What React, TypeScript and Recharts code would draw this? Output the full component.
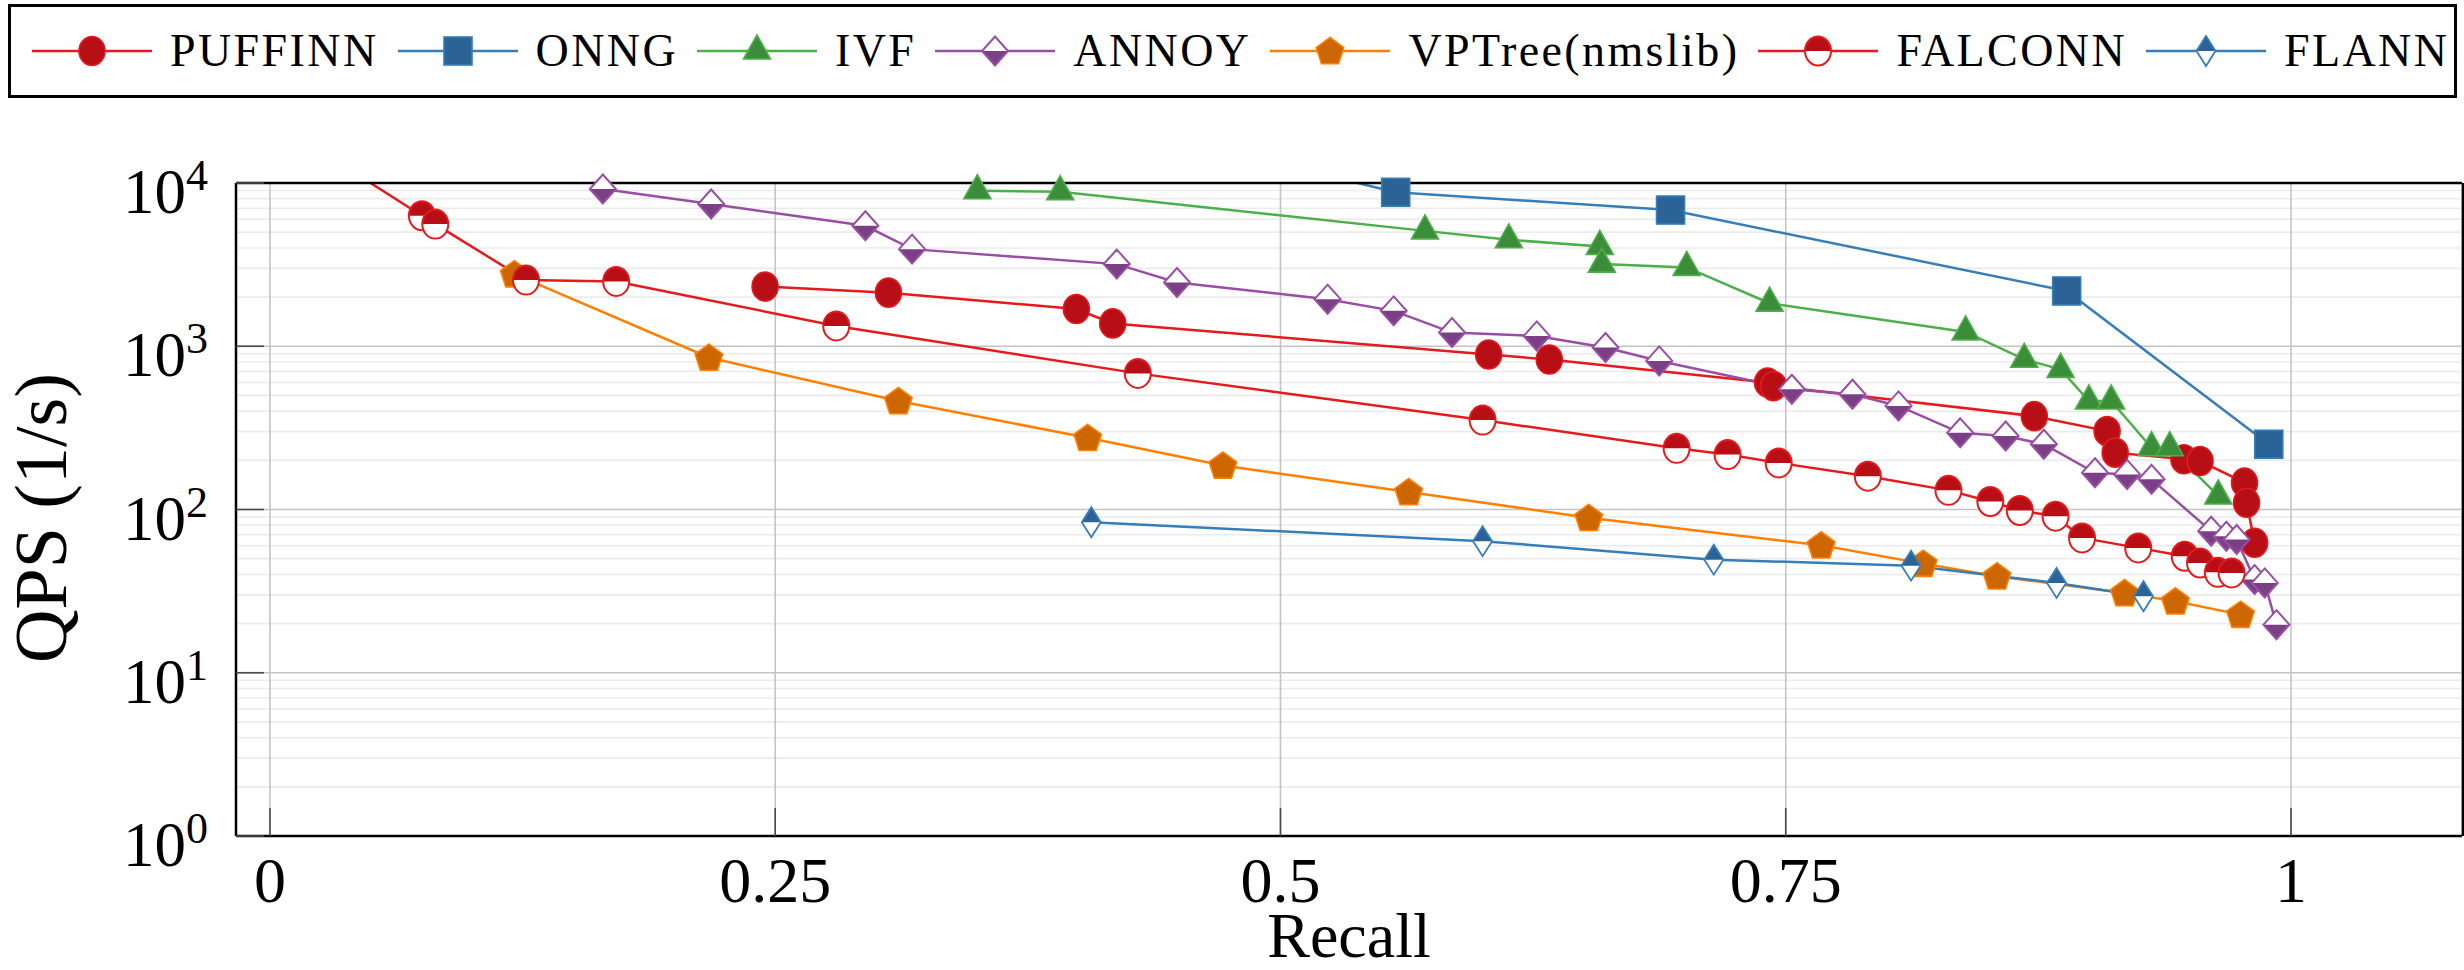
import React from "react";
import { LineChart, Line, XAxis, YAxis, CartesianGrid } from "recharts";

// recall (x) and queries per second (y)
const PUFFINN_RECALL = [0.245, 0.306, 0.399, 0.417, 0.603, 0.633, 0.741, 0.744, 0.873, 0.909, 0.913, 0.947, 0.955, 0.977, 0.978, 0.982];
const PUFFINN_QPS = [2320, 2130, 1690, 1380, 890, 830, 600, 570, 373, 302, 223, 203, 198, 146, 110, 62.5];

const ONNG_RECALL = [0.557, 0.693, 0.889, 0.989];
const ONNG_QPS = [8770, 6830, 2180, 251];
// the ONNG curve comes in from above the 10^4 limit
const ONNG_LEAD_RECALL = [0.45, 0.557];
const ONNG_LEAD_QPS = [18500, 8770];

const IVF_RECALL = [0.35, 0.391, 0.5715, 0.613, 0.658, 0.659, 0.701, 0.742, 0.839, 0.868, 0.886, 0.9, 0.911, 0.931, 0.94, 0.964];
const IVF_QPS = [8970, 8850, 5090, 4490, 4090, 3185, 3040, 1836, 1224, 832, 722, 462, 462, 239, 239, 121];

const ANNOY_RECALL = [0.1647, 0.2183, 0.2946, 0.3177, 0.419, 0.4488, 0.5233, 0.556, 0.5849, 0.6268, 0.6608, 0.6874, 0.753, 0.783, 0.8058, 0.8363, 0.8588, 0.8777, 0.903, 0.9189, 0.931, 0.9605, 0.968, 0.9731, 0.982, 0.987, 0.9928];
const ANNOY_QPS = [9190, 7440, 5470, 3935, 3185, 2459, 1942, 1647, 1213, 1157, 982, 813, 545, 508, 431, 295, 282, 251, 168, 164, 153, 73.6, 68.6, 65.5, 37.2, 35.5, 19.7];

const VPTREE_RECALL = [0.1209, 0.2172, 0.3109, 0.4046, 0.4715, 0.5634, 0.6525, 0.7675, 0.818, 0.8545, 0.9176, 0.9428, 0.975];
const VPTREE_QPS = [2766, 853, 462, 275, 186, 128, 88.9, 60.4, 46.6, 39, 30.8, 27.4, 22.7];

const FALCONN_RECALL = [0.0752, 0.0818, 0.1267, 0.1713, 0.2802, 0.4294, 0.6, 0.696, 0.7212, 0.7465, 0.7906, 0.8305, 0.8512, 0.8658, 0.8835, 0.8966, 0.9244, 0.9474, 0.955, 0.9638, 0.9706];
const FALCONN_QPS = [6300, 5600, 2543, 2495, 1332, 682, 353, 237, 217, 193, 160, 131, 112, 98.6, 91, 67, 58.2, 51.7, 47, 41.2, 40.9];
const FALCONN_LEAD_RECALL = [0.02, 0.0752];
const FALCONN_LEAD_QPS = [17200, 6300];

const FLANN_RECALL = [0.4064, 0.6, 0.7144, 0.812, 0.884, 0.927];
const FLANN_QPS = [83.6, 64, 49.3, 45.3, 35.5, 29.4];

const X_TICKS = [0, 0.25, 0.5, 0.75, 1];
const Y_TICKS = [1, 10, 100, 1000, 10000];
const Y_MINOR_TICKS = [
    2, 3, 4, 5, 6, 7, 8, 9,
    20, 30, 40, 50, 60, 70, 80, 90,
    200, 300, 400, 500, 600, 700, 800, 900,
    2000, 3000, 4000, 5000, 6000, 7000, 8000, 9000,
];

const W = 2464;
const H = 970;
// every axis is 1px thick, so the plot box lands on 236..2462 x 184..836
const MARGIN = { top: 182, right: 0, bottom: 133, left: 234 };
const X_DOMAIN: [number, number] = [-0.0168, 1.0846];
const Y_DOMAIN: [number, number] = [1, 10000];

const SERIF = "'Liberation Serif', 'Times New Roman', serif";
const TICK_COLOR = "#4a4a4a";
const BORDER = { stroke: "#000", strokeWidth: 2.5 };

const RED = "#e41a1c";
const BLUE = "#377eb8";
const GREEN = "#4daf4a";
const PURPLE = "#984ea3";
const ORANGE = "#ff7f00";

const toPoints = (xs: number[], ys: number[]) => xs.map((x, i) => ({ x, y: ys[i] }));

type MarkerKind = "circle" | "halfcircle" | "square" | "triangle" | "diamond" | "pentagon" | "thindiamond";

const SERIES: { name: string; color: string; mark: string; kind: MarkerKind; data: { x: number; y: number }[] }[] = [
    { name: "PUFFINN", color: RED, mark: "#b80f17", kind: "circle", data: toPoints(PUFFINN_RECALL, PUFFINN_QPS) },
    { name: "ONNG", color: BLUE, mark: "#2c6396", kind: "square", data: toPoints(ONNG_RECALL, ONNG_QPS) },
    { name: "IVF", color: GREEN, mark: "#3c8d3a", kind: "triangle", data: toPoints(IVF_RECALL, IVF_QPS) },
    { name: "ANNOY", color: PURPLE, mark: "#7b3f86", kind: "diamond", data: toPoints(ANNOY_RECALL, ANNOY_QPS) },
    { name: "VPTree(nmslib)", color: ORANGE, mark: "#cc6600", kind: "pentagon", data: toPoints(VPTREE_RECALL, VPTREE_QPS) },
    { name: "FALCONN", color: RED, mark: "#b80f17", kind: "halfcircle", data: toPoints(FALCONN_RECALL, FALCONN_QPS) },
    { name: "FLANN", color: BLUE, mark: "#2c6396", kind: "thindiamond", data: toPoints(FLANN_RECALL, FLANN_QPS) },
];

const LEADS = [
    { color: BLUE, data: toPoints(ONNG_LEAD_RECALL, ONNG_LEAD_QPS) },
    { color: RED, data: toPoints(FALCONN_LEAD_RECALL, FALCONN_LEAD_QPS) },
];

function Marker(props: any) {
    const { cx, cy, kind, lineColor, markColor } = props;
    if (typeof cx !== "number" || typeof cy !== "number") return null;
    switch (kind as MarkerKind) {
        case "circle":
            return <ellipse cx={cx} cy={cy} rx={13} ry={14.5} fill={markColor} stroke={lineColor} strokeWidth={1.6} />;
        case "halfcircle":
            return (
                <g>
                    <ellipse cx={cx} cy={cy} rx={13} ry={14.5} fill="#fff" />
                    <path d={`M${cx - 13},${cy} A13,14.5 0 0 1 ${cx + 13},${cy} Z`} fill={markColor} />
                    <ellipse cx={cx} cy={cy} rx={13} ry={14.5} fill="none" stroke={lineColor} strokeWidth={2} />
                </g>
            );
        case "square":
            return <rect x={cx - 14} y={cy - 14} width={28} height={28} fill={markColor} stroke={lineColor} strokeWidth={1.6} />;
        case "triangle":
            return (
                <polygon
                    points={`${cx},${cy - 16} ${cx - 13.5},${cy + 8} ${cx + 13.5},${cy + 8}`}
                    fill={markColor}
                    stroke={lineColor}
                    strokeWidth={1.6}
                />
            );
        case "diamond": {
            const hw = 13;
            const hh = 14.5;
            return (
                <g>
                    <polygon points={`${cx},${cy - hh} ${cx + hw},${cy} ${cx},${cy + hh} ${cx - hw},${cy}`} fill="#fff" />
                    <polygon points={`${cx - hw},${cy} ${cx + hw},${cy} ${cx},${cy + hh}`} fill={markColor} />
                    <polygon
                        points={`${cx},${cy - hh} ${cx + hw},${cy} ${cx},${cy + hh} ${cx - hw},${cy}`}
                        fill="none"
                        stroke={lineColor}
                        strokeWidth={2}
                    />
                </g>
            );
        }
        case "thindiamond": {
            const hw = 9.5;
            const hh = 15;
            return (
                <g>
                    <polygon points={`${cx},${cy - hh} ${cx + hw},${cy} ${cx},${cy + hh} ${cx - hw},${cy}`} fill="#fff" />
                    <polygon points={`${cx - hw},${cy} ${cx + hw},${cy} ${cx},${cy - hh}`} fill={markColor} />
                    <polygon
                        points={`${cx},${cy - hh} ${cx + hw},${cy} ${cx},${cy + hh} ${cx - hw},${cy}`}
                        fill="none"
                        stroke={lineColor}
                        strokeWidth={1.8}
                    />
                </g>
            );
        }
        case "pentagon": {
            const r = 14.5;
            const pts = [0, 1, 2, 3, 4]
                .map((k) => {
                    const a = ((-90 + 72 * k) * Math.PI) / 180;
                    return `${cx + r * Math.cos(a)},${cy + r * Math.sin(a) + 1}`;
                })
                .join(" ");
            return <polygon points={pts} fill={markColor} stroke={lineColor} strokeWidth={1.6} />;
        }
    }
    return null;
}

function LeftTick({ x, y, payload }: any) {
    const exp = Math.round(Math.log10(payload.value));
    return (
        <g>
            <line x1={x} x2={x + 28} y1={y} y2={y} stroke={TICK_COLOR} strokeWidth={1.6} />
            <text x={x - 28} y={y + 30} textAnchor="end" fontFamily={SERIF} fontSize={63} fill="#000">
                10
                <tspan dy={-23} fontSize={44}>
                    {exp}
                </tspan>
            </text>
        </g>
    );
}

function RightTick({ x, y }: any) {
    return <line x1={x} x2={x - 28} y1={y} y2={y} stroke={TICK_COLOR} strokeWidth={1.6} />;
}

function MinorLeftTick({ x, y }: any) {
    return <line x1={x} x2={x + 19} y1={y} y2={y} stroke={TICK_COLOR} strokeWidth={1.4} />;
}

function MinorRightTick({ x, y }: any) {
    return <line x1={x} x2={x - 19} y1={y} y2={y} stroke={TICK_COLOR} strokeWidth={1.4} />;
}

function BottomTick({ x, y, payload }: any) {
    return (
        <g>
            <line x1={x} x2={x} y1={y} y2={y - 28} stroke={TICK_COLOR} strokeWidth={1.6} />
            <text x={x} y={y + 66} textAnchor="middle" fontFamily={SERIF} fontSize={64} fill="#000">
                {String(payload.value)}
            </text>
        </g>
    );
}

function TopTick({ x, y }: any) {
    return <line x1={x} x2={x} y1={y} y2={y + 28} stroke={TICK_COLOR} strokeWidth={1.6} />;
}

function ChartLegend() {
    return (
        <div
            style={{
                position: "absolute",
                left: 8,
                top: 4,
                width: 2449,
                height: 94,
                boxSizing: "border-box",
                border: "3px solid #000",
                display: "flex",
                alignItems: "center",
                paddingLeft: 21,
                fontFamily: SERIF,
            }}
        >
            {SERIES.map((s) => (
                <div key={s.name} style={{ display: "flex", alignItems: "center", marginRight: 19 }}>
                    <svg width={120} height={40} style={{ overflow: "visible" }}>
                        <line x1={0} x2={120} y1={20} y2={20} stroke={s.color} strokeWidth={2.5} />
                        <Marker cx={60} cy={20} kind={s.kind} lineColor={s.color} markColor={s.mark} />
                    </svg>
                    <span style={{ marginLeft: 18, fontSize: 46, letterSpacing: 2.4, lineHeight: 1, color: "#000" }}>
                        {s.name}
                    </span>
                </div>
            ))}
        </div>
    );
}

const yAxisBase = {
    scale: "log" as const,
    domain: Y_DOMAIN,
    interval: 0,
    width: 1,
    tickSize: 0,
    tickMargin: 0,
    tickLine: false,
};

const xAxisBase = {
    type: "number" as const,
    domain: X_DOMAIN,
    ticks: X_TICKS,
    interval: 0,
    height: 1,
    tickSize: 0,
    tickMargin: 0,
    tickLine: false,
    axisLine: BORDER,
};

export default function App() {
    return (
        <div style={{ position: "absolute", left: 0, top: 0, width: W, height: H, background: "#fff" }}>
            <LineChart width={W} height={H} margin={MARGIN}>
                <CartesianGrid horizontalValues={Y_MINOR_TICKS} vertical={false} stroke="#ebebeb" strokeWidth={1.6} />
                <CartesianGrid stroke="#c4c4c4" strokeWidth={1.6} />
                <XAxis {...xAxisBase} dataKey="x" tick={(p: any) => <BottomTick {...p} />} />
                <XAxis {...xAxisBase} xAxisId="top" orientation="top" tick={(p: any) => <TopTick {...p} />} />
                <YAxis {...yAxisBase} ticks={Y_TICKS} axisLine={BORDER} tick={(p: any) => <LeftTick {...p} />} />
                <YAxis
                    {...yAxisBase}
                    yAxisId="minorL"
                    ticks={Y_MINOR_TICKS}
                    axisLine={false}
                    tick={(p: any) => <MinorLeftTick {...p} />}
                />
                <YAxis
                    {...yAxisBase}
                    yAxisId="right"
                    orientation="right"
                    ticks={Y_TICKS}
                    axisLine={BORDER}
                    tick={(p: any) => <RightTick {...p} />}
                />
                <YAxis
                    {...yAxisBase}
                    yAxisId="minorR"
                    orientation="right"
                    ticks={Y_MINOR_TICKS}
                    axisLine={false}
                    tick={(p: any) => <MinorRightTick {...p} />}
                />
                <YAxis yAxisId="lead" hide scale="log" domain={Y_DOMAIN} allowDataOverflow />

                {LEADS.map((l, i) => (
                    <Line
                        key={`lead-${i}`}
                        yAxisId="lead"
                        data={l.data}
                        dataKey="y"
                        type="linear"
                        stroke={l.color}
                        strokeWidth={2.5}
                        dot={false}
                        activeDot={false}
                        isAnimationActive={false}
                    />
                ))}
                {SERIES.map((s) => (
                    <Line
                        key={s.name}
                        name={s.name}
                        data={s.data}
                        dataKey="y"
                        type="linear"
                        stroke={s.color}
                        strokeWidth={2.5}
                        dot={<Marker kind={s.kind} lineColor={s.color} markColor={s.mark} />}
                        activeDot={false}
                        isAnimationActive={false}
                    />
                ))}
            </LineChart>

            <svg
                width={W}
                height={H}
                style={{ position: "absolute", left: 0, top: 0, pointerEvents: "none" }}
            >
                <text x={1349} y={957} textAnchor="middle" fontFamily={SERIF} fontSize={64} fill="#000">
                    Recall
                </text>
                <text
                    transform="translate(66,518) rotate(-90)"
                    textAnchor="middle"
                    fontFamily={SERIF}
                    fontSize={74}
                    fill="#000"
                >
                    QPS (1/s)
                </text>
            </svg>

            <ChartLegend />
        </div>
    );
}
